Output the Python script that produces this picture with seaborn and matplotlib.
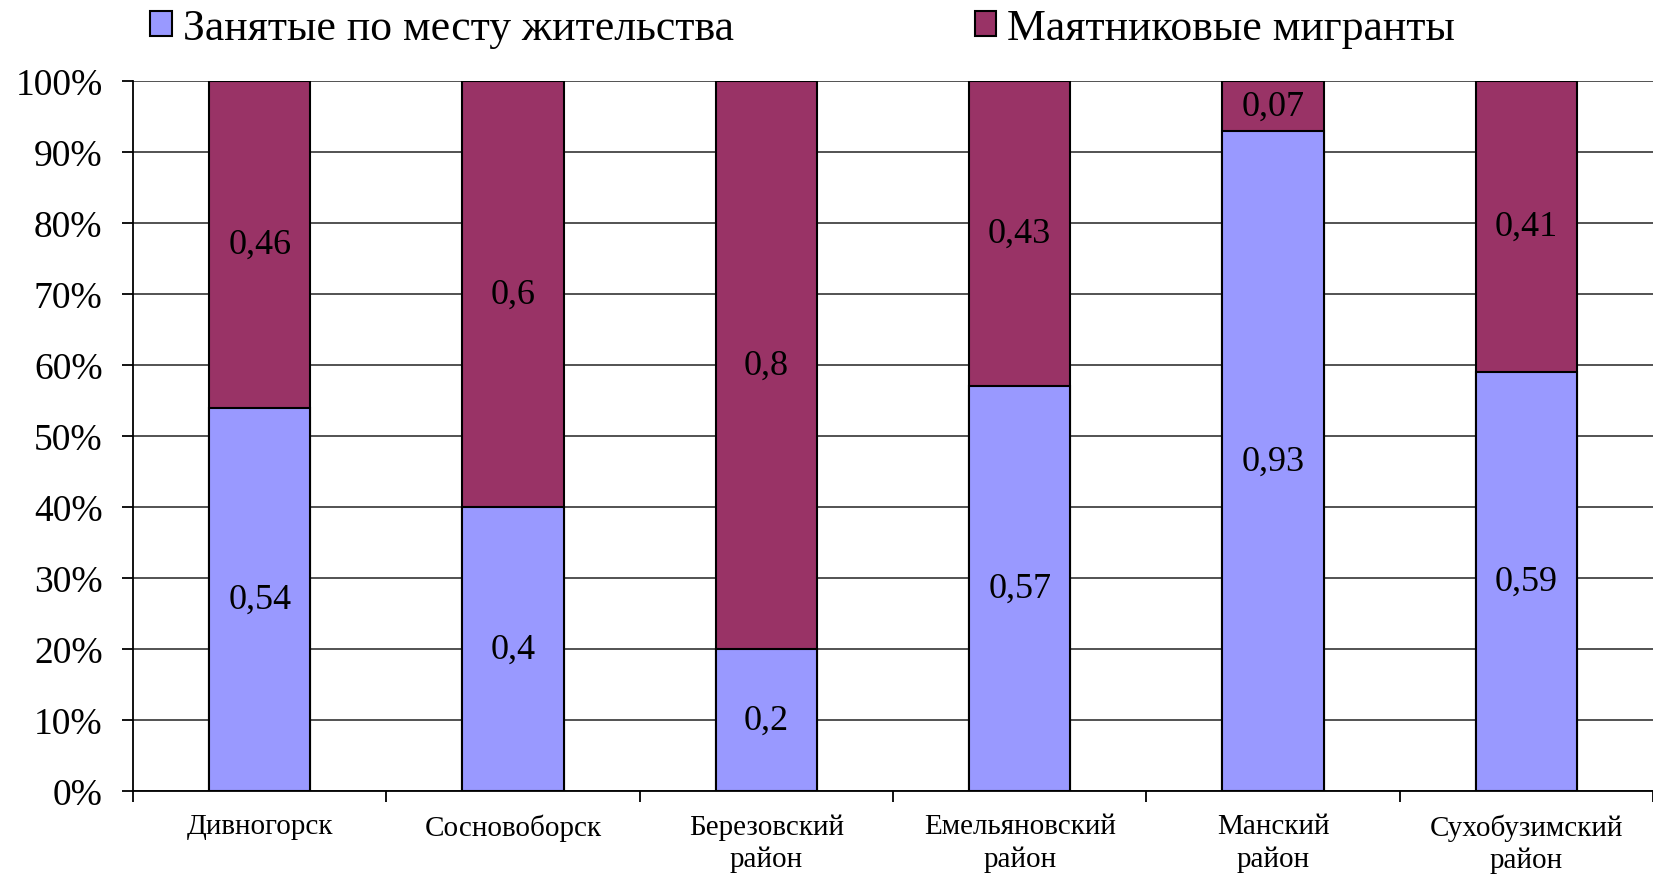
import matplotlib
matplotlib.use('Agg')
import matplotlib.pyplot as plt
import seaborn as sns
import pandas as pd
from matplotlib.patches import Patch
from matplotlib.ticker import FixedLocator, PercentFormatter

# Data
districts = ['Дивногорск', 'Сосновоборск', 'Березовский\nрайон',
             'Емельяновский\nрайон', 'Манский\nрайон', 'Сухобузимский\nрайон']
local_share = [0.54, 0.4, 0.2, 0.57, 0.93, 0.59]
commuters_share = [0.46, 0.6, 0.8, 0.43, 0.07, 0.41]
series_names = ['Занятые по месту жительства', 'Маятниковые мигранты']

blue = '#9999FF'
maroon = '#993366'

df = pd.DataFrame({'district': districts,
                   'local': local_share,
                   'commuters': commuters_share})
df['total'] = df['local'] + df['commuters']

sns.set_style('white')
plt.rcParams['font.family'] = ['Liberation Serif', 'DejaVu Serif']
plt.rcParams['text.color'] = 'black'
plt.rcParams['xtick.color'] = 'black'
plt.rcParams['ytick.color'] = 'black'

fig = plt.figure(figsize=(16.53, 8.79), dpi=100)
ax = fig.add_axes([0.0805, 0.099, 0.9195, 0.8077])

# stacked: draw the total in maroon, then the local part in blue on top
sns.barplot(data=df, x='district', y='total', color=maroon, width=0.4,
            saturation=1, edgecolor='black', linewidth=1.5, ax=ax, zorder=3)
sns.barplot(data=df, x='district', y='local', color=blue, width=0.4,
            saturation=1, edgecolor='black', linewidth=1.5, ax=ax, zorder=3)

# segment labels
for i, row in df.iterrows():
    ax.text(i, row['local'] / 2, f"{row['local']:g}".replace('.', ','),
            ha='center', va='center', fontsize=26, zorder=4)
    ax.text(i, row['local'] + row['commuters'] / 2,
            f"{row['commuters']:g}".replace('.', ','),
            ha='center', va='center', fontsize=26, zorder=4)

ax.set_xlim(-0.5, len(districts) - 0.5)
ax.set_ylim(0, 1)
ax.yaxis.set_major_locator(FixedLocator([i / 10 for i in range(11)]))
ax.yaxis.set_major_formatter(PercentFormatter(1.0, decimals=0))
ax.grid(axis='y', color='#444444', linewidth=1.3, zorder=0)
ax.set_axisbelow(True)

# x ticks at category boundaries
ax.xaxis.set_minor_locator(FixedLocator([i - 0.5 for i in range(len(districts) + 1)]))
ax.tick_params(axis='x', which='major', length=0, pad=16, labelsize=21)
ax.tick_params(axis='x', which='minor', length=8, width=1.3, color='black',
               direction='out', bottom=True)
ax.tick_params(axis='y', length=8, width=1.3, color='black', direction='out',
               left=True, pad=14, labelsize=27)
ax.set_xlabel('')
ax.set_ylabel('')
for lbl in ax.get_xticklabels():
    lbl.set_linespacing(1.3)

for side in ['top', 'right']:
    ax.spines[side].set_visible(False)
for side in ['left', 'bottom']:
    ax.spines[side].set_color('black')
    ax.spines[side].set_linewidth(1.3)

handles = [Patch(facecolor=blue, edgecolor='black', linewidth=1.5),
           Patch(facecolor=maroon, edgecolor='black', linewidth=1.5)]
fig.legend(handles, series_names, loc='upper left', bbox_to_anchor=(0.067, 1.035),
           ncol=2, frameon=False, fontsize=31.5, handlelength=0.5, handleheight=0.5,
           handletextpad=0.25, columnspacing=5.5)

fig.savefig('out.png', dpi=100)
